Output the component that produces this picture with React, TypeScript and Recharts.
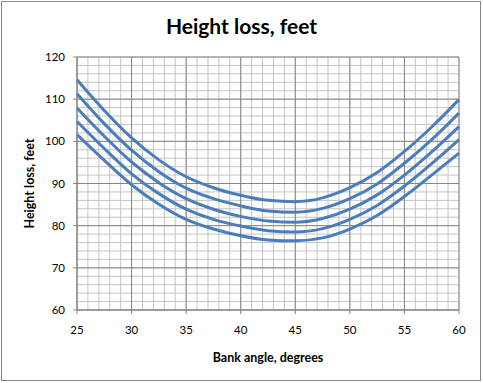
import { LineChart, Line, XAxis, YAxis, CartesianGrid, Label } from 'recharts';

// bank angle, degrees
const bankAngles = [25, 27.5, 30, 32.5, 35, 37.5, 40, 42.5, 45, 47.5, 50, 52.5, 55, 57.5, 60];

// height loss, feet (one array per curve, top to bottom)
const loss1 = [114.6, 107.3, 100.8, 95.6, 91.6, 89.0, 87.2, 86.0, 85.7, 86.6, 89.0, 92.6, 97.6, 103.4, 109.9];
const loss2 = [111.3, 104.2, 97.9, 92.8, 88.9, 86.4, 84.7, 83.5, 83.2, 84.1, 86.4, 89.9, 94.8, 100.4, 106.7];
const loss3 = [107.9, 101.2, 95.1, 90.2, 86.4, 83.9, 82.2, 81.1, 80.8, 81.7, 83.9, 87.3, 92.0, 97.5, 103.5];
const loss4 = [104.7, 98.3, 92.3, 87.6, 83.9, 81.5, 79.9, 78.8, 78.5, 79.3, 81.5, 84.8, 89.4, 94.7, 100.4];
const loss5 = [101.6, 95.5, 89.7, 85.1, 81.5, 79.2, 77.6, 76.6, 76.4, 77.1, 79.2, 82.4, 86.9, 92.0, 97.2];

const xTicks = [25, 30, 35, 40, 45, 50, 55, 60];
const xMinor = [25, 26, 27, 28, 29, 30, 31, 32, 33, 34, 35, 36, 37, 38, 39, 40, 41, 42, 43, 44, 45, 46, 47, 48, 49, 50, 51, 52, 53, 54, 55, 56, 57, 58, 59, 60];
const yTicks = [60, 70, 80, 90, 100, 110, 120];
const yMinor = [60, 62, 64, 66, 68, 70, 72, 74, 76, 78, 80, 82, 84, 86, 88, 90, 92, 94, 96, 98, 100, 102, 104, 106, 108, 110, 112, 114, 116, 118, 120];

const series = ['loss1', 'loss2', 'loss3', 'loss4', 'loss5'];

const data = bankAngles.map((angle, i) => ({
  angle,
  loss1: loss1[i],
  loss2: loss2[i],
  loss3: loss3[i],
  loss4: loss4[i],
  loss5: loss5[i],
}));

const font = 'Lato, "Open Sans", sans-serif';
const axisGray = '#868686';

export default function App() {
  return (
    <div style={{ position: 'absolute', left: 0, top: 0, width: 483, height: 383, background: '#fff', fontFamily: font }}>
      <div
        style={{
          position: 'absolute', left: 1, top: 1, width: 480, height: 380,
          border: '1px solid #888', boxSizing: 'border-box',
        }}
      />
      <div
        style={{
          position: 'absolute', left: 0, top: 15, width: 483, textAlign: 'center',
          fontSize: 21, lineHeight: '21px', fontWeight: 700, color: '#000',
        }}
      >
        Height loss, feet
      </div>
      <div style={{ position: 'absolute', left: 0, top: 0 }}>
        <LineChart width={483} height={383} data={data} margin={{ top: 57, right: 24, bottom: 0, left: 0 }}>
          <XAxis xAxisId="minor" type="number" dataKey="angle" domain={[25, 60]} ticks={xMinor} interval={0} allowDataOverflow hide />
          <YAxis yAxisId="minor" type="number" domain={[60, 120]} ticks={yMinor} interval={0} allowDataOverflow hide />
          <CartesianGrid xAxisId="minor" yAxisId="minor" stroke="#c4c4c4" />
          <CartesianGrid stroke={axisGray} />
          <XAxis
            type="number"
            dataKey="angle"
            domain={[25, 60]}
            ticks={xTicks}
            interval={0}
            height={73}
            tickSize={4}
            tickMargin={12}
            stroke={axisGray}
            tick={{ fill: '#000', fontSize: 11.5, fontFamily: font }}
          >
            <Label
              value="Bank angle, degrees"
              position="insideBottom"
              offset={21}
              style={{ fontWeight: 700, fontSize: 12.5, fill: '#000', fontFamily: font }}
            />
          </XAxis>
          <YAxis
            type="number"
            domain={[60, 120]}
            ticks={yTicks}
            interval={0}
            width={77}
            tickSize={4}
            tickMargin={8}
            stroke={axisGray}
            tick={{ fill: '#000', fontSize: 11.5, fontFamily: font }}
          >
            <Label
              value="Height loss, feet"
              angle={-90}
              position="insideLeft"
              offset={30}
              style={{ fontWeight: 700, fontSize: 12.5, fill: '#000', fontFamily: font, textAnchor: 'middle' }}
            />
          </YAxis>
          {series.map((key) => (
            <Line
              key={key}
              type="monotone"
              dataKey={key}
              stroke="#4a7ebb"
              strokeWidth={3}
              dot={false}
              isAnimationActive={false}
            />
          ))}
        </LineChart>
      </div>
    </div>
  );
}
